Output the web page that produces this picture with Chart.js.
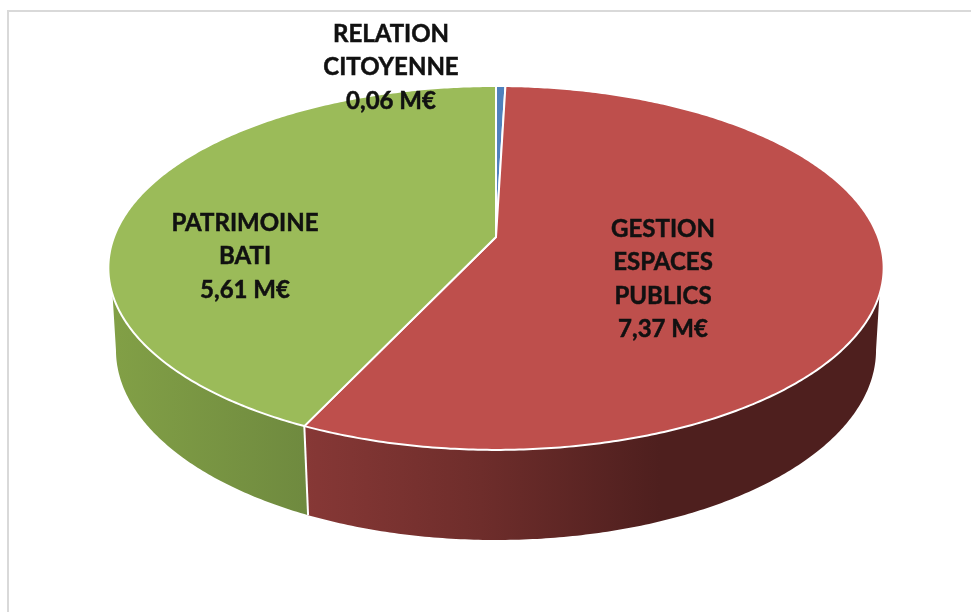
<!DOCTYPE html>
<html lang="fr">
  <head>
    <meta charset="utf-8">
    <title>Répartition</title>
    <script src="https://cdn.jsdelivr.net/npm/chart.js@4"></script>
    <style>
      html, body { margin: 0; padding: 0; background: #fff; }
      canvas { display: block; }
    </style>
  </head>
  <body>
    <canvas id="pie" width="971" height="612"></canvas>

    <script>
    const categories = ["RELATION CITOYENNE", "GESTION ESPACES PUBLICS", "PATRIMOINE BATI"];
    const values = [0.06, 7.37, 5.61];

    const topColors = ["#4f81bd", "#be4f4c", "#9bbb59"];

    // the pie is tilted in perspective: circle -> plane through a homography
    const k = 0.17;
    const cx = 496;
    const topPlane = { y0: 237, rx: 382, ry: 176.7 };
    const lowPlane = { y0: 317.7, rx: 374.5, ry: 184.5 };

    function project(plane, theta) {
      const u = Math.sin(theta), v = -Math.cos(theta);
      const w = 1 - k * v;
      return [cx + plane.rx * u / w, plane.y0 + plane.ry * v / w];
    }

    function rim(ctx, plane, from, to) {
      const steps = Math.max(2, Math.ceil(Math.abs(to - from) / 0.01));
      for (let i = 0; i <= steps; i++) {
        const p = project(plane, from + (to - from) * i / steps);
        ctx.lineTo(p[0], p[1]);
      }
    }

    const rad = d => d * Math.PI / 180;

    function drawWall(ctx, a, b, fill) {
      // upper rim is visible from 108 to 252 deg, lower silhouette from 99.8 to 260.2 deg
      const top0 = Math.max(a, rad(108)), top1 = Math.min(b, rad(252));
      const low0 = a <= rad(108) ? rad(99.8) : a;
      const low1 = b >= rad(252) ? rad(260.2) : b;
      if (top1 <= top0) return;
      ctx.beginPath();
      rim(ctx, topPlane, top0, top1);
      rim(ctx, lowPlane, low1, low0);
      ctx.closePath();
      ctx.fillStyle = fill;
      ctx.fill();
    }

    function wallGradient(ctx, i) {
      if (i === 1) {
        const g = ctx.createLinearGradient(302, 0, 660, 0);
        g.addColorStop(0, "#873836");
        g.addColorStop(0.5, "#6e2d2b");
        g.addColorStop(1, "#4e1f1e");
        return g;
      }
      const g = ctx.createLinearGradient(110, 0, 305, 0);
      g.addColorStop(0, "#82a046");
      g.addColorStop(1, "#6f8a3f");
      return g;
    }

    const pie3d = {
      id: "pie3d",
      beforeDraw(chart) {
        const ctx = chart.ctx;
        ctx.save();
        ctx.fillStyle = "#fff";
        ctx.fillRect(0, 0, chart.width, chart.height);
        ctx.strokeStyle = "#d9d9d9";
        ctx.lineWidth = 2;
        ctx.beginPath();
        ctx.moveTo(8, 612);
        ctx.lineTo(8, 11);
        ctx.lineTo(971, 11);
        ctx.stroke();
        ctx.restore();
      },
      beforeDatasetsDraw(chart) {
        const ctx = chart.ctx;
        const arcs = chart.getDatasetMeta(0).data;
        ctx.save();
        ctx.lineJoin = "round";
        arcs.forEach((arc, i) => {
          const a = arc.startAngle + Math.PI / 2, b = arc.endAngle + Math.PI / 2;
          drawWall(ctx, a, b, wallGradient(ctx, i));
        });
        // white edge between the two wall pieces
        const edge = arcs[1].endAngle + Math.PI / 2;
        const p1 = project(topPlane, edge), p2 = project(lowPlane, edge);
        ctx.strokeStyle = "#fff";
        ctx.lineWidth = 2;
        ctx.beginPath();
        ctx.moveTo(p1[0], p1[1]);
        ctx.lineTo(p2[0], p2[1]);
        ctx.stroke();
        arcs.forEach((arc, i) => {
          const a = arc.startAngle + Math.PI / 2, b = arc.endAngle + Math.PI / 2;
          ctx.beginPath();
          ctx.moveTo(cx, topPlane.y0);
          rim(ctx, topPlane, a, b);
          ctx.closePath();
          ctx.fillStyle = topColors[i];
          ctx.fill();
          ctx.stroke();
        });
        ctx.restore();
        return false;
      },
      beforeDatasetDraw() {
        return false; // faces are painted above from the arc angles
      },
      afterDraw(chart) {
        const ctx = chart.ctx;
        const labelSpots = [[391, 34], [663, 229], [245, 223]];
        const breaks = [["RELATION", "CITOYENNE"], ["GESTION", "ESPACES", "PUBLICS"], ["PATRIMOINE", "BATI"]];
        ctx.save();
        ctx.font = "bold 24px Lato";
        ctx.fillStyle = "#111";
        ctx.strokeStyle = "#111";
        ctx.lineWidth = 0.5;
        ctx.textAlign = "center";
        ctx.textBaseline = "middle";
        values.forEach((v, i) => {
          const lines = breaks[i].concat(v.toFixed(2).replace(".", ",") + " M€");
          lines.forEach((t, j) => {
            const y = labelSpots[i][1] + j * 33.5;
            ctx.fillText(t, labelSpots[i][0], y);
            ctx.strokeText(t, labelSpots[i][0], y);
          });
        });
        ctx.restore();
      }
    };

    new Chart(document.getElementById("pie"), {
      type: "pie",
      data: {
        labels: categories,
        datasets: [{ data: values, backgroundColor: topColors }]
      },
      options: {
        responsive: false,
        animation: false,
        plugins: { legend: { display: false }, tooltip: { enabled: false } }
      },
      plugins: [pie3d]
    });
    </script>
  </body>
</html>
